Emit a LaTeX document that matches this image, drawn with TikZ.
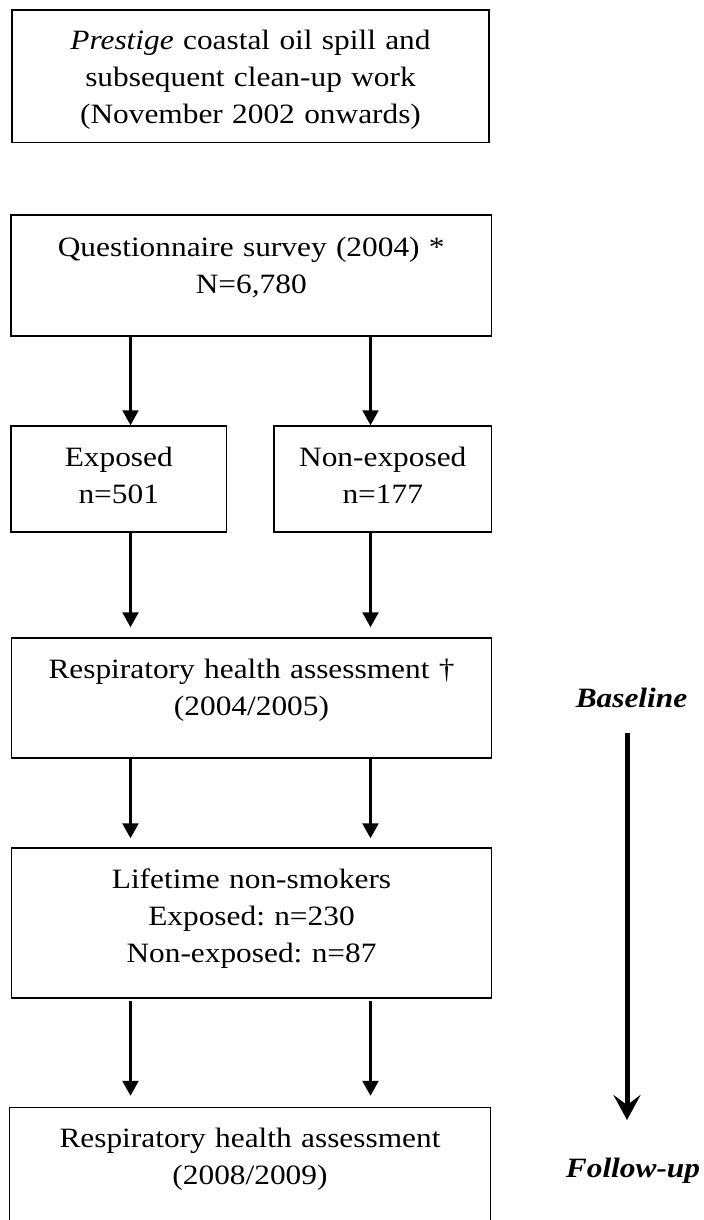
\documentclass[tikz,border=0pt]{standalone}
\usepackage{fontspec}
\setmainfont{Liberation Serif}[FakeStretch=1.12]
\usetikzlibrary{arrows.meta}
\frenchspacing
\tikzset{every picture/.style={line width=0.75pt}}
\tikzset{
  box/.style={draw, inner sep=0pt},
  txt/.style={anchor=base, align=center, inner sep=0pt, text width=#1,
    font=\fontsize{14pt}{18.5pt}\selectfont},
  txt/.default=232pt,
  arr/.style={line width=1.2pt, -{Triangle[length=7.5pt,width=8pt]}},
  stage/.style={anchor=base, inner sep=0pt,
    font=\fontsize{14pt}{18.5pt}\selectfont\bfseries\itshape},
  timeline/.style={line width=2.5pt, -{Stealth[length=12.5pt,width=13.5pt,inset=5pt]}}
}

\begin{document}
\begin{tikzpicture}[x=0.5pt,y=0.5pt,yscale=-1,xscale=1]
\clip (0,0) rectangle (703,1220);

%Boxes
\node[box, minimum width=238.5pt, minimum height=66.25pt] (spill) at (250.5,76.25) {};
\node[box, minimum width=240.25pt, minimum height=60.5pt] (survey) at (251.25,275.5) {};
\node[box, minimum width=107.75pt, minimum height=53pt] (exp) at (118.75,479) {};
\node[box, minimum width=108.75pt, minimum height=53pt] (nonexp) at (382.75,479) {};
\node[box, minimum width=240pt, minimum height=60pt] (resp1) at (251.5,698) {};
\node[box, minimum width=240pt, minimum height=75pt] (nonsmk) at (251.5,923) {};
\node[box, minimum width=240.5pt, minimum height=76.25pt] (resp2) at (250,1183.75) {};

% Text Node
\node[txt] (spill-t) at (250.5,50) {\textit{Prestige} coastal oil spill and\\ subsequent clean-up work\\ (November 2002 onwards)};
% Text Node
\node[txt] (survey-t) at (251.25,256) {Questionnaire survey (2004) *\\ N=6,780};
% Text Node
\node[txt=100pt] (exp-t) at (118.75,466) {Exposed\\ n=501};
% Text Node
\node[txt=100pt] (nonexp-t) at (382.75,466) {Non-exposed\\ n=177};
% Text Node
\node[txt] (resp1-t) at (251.5,678) {Respiratory health assessment \textdagger\\ (2004/2005)};
% Text Node
\node[txt] (nonsmk-t) at (251.5,888) {Lifetime non-smokers\\ Exposed: n=230\\ Non-exposed: n=87};
% Text Node
\node[txt] (resp2-t) at (250,1147) {Respiratory health assessment\\ (2008/2009)};

%Arrow columns
\coordinate (lft) at (130.5,0);
\coordinate (rgt) at (370.5,0);

%Straight Lines
\draw[arr] (survey.south -| lft) -- (exp.north -| lft);
\draw[arr] (survey.south -| rgt) -- (nonexp.north -| rgt);
\draw[arr, shorten >=5pt] (exp.south -| lft) -- (resp1.north -| lft);
\draw[arr, shorten >=5pt] (nonexp.south -| rgt) -- (resp1.north -| rgt);
\draw[arr, shorten >=4.5pt] (resp1.south -| lft) -- (nonsmk.north -| lft);
\draw[arr, shorten >=4.5pt] (resp1.south -| rgt) -- (nonsmk.north -| rgt);
\draw[arr, shorten <=1pt, shorten >=5.5pt] (nonsmk.south -| lft) -- (resp2.north -| lft);
\draw[arr, shorten <=1pt, shorten >=5.5pt] (nonsmk.south -| rgt) -- (resp2.north -| rgt);

%Time axis
\node[stage] (baseline) at (631.5,707) {Baseline};
\node[stage] (followup) at (633,1177) {Follow-up};
\coordinate (tltop) at (627,733);
\coordinate (tlbot) at (627,1120);
\draw[timeline] (tltop) -- (tlbot);

\end{tikzpicture}
\end{document}
